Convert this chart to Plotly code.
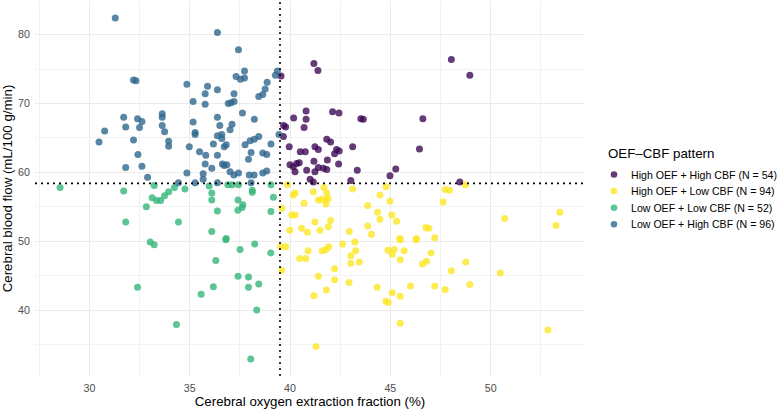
import plotly.graph_objects as go

# ---- data ----
hh_x = [39.55, 41.19, 41.39, 48.04, 48.96, 42.12, 42.44, 43.53, 43.65, 46.62, 40.8, 40.18, 40.8, 40.7,
        39.68, 39.78, 39.67, 39.96, 40.51, 40.76, 41.24, 41.41, 41.86, 40.0, 40.16, 40.33, 40.46, 40.25,
        40.83, 41.24, 41.0, 41.16, 41.83, 42.02, 42.32, 42.45, 42.22, 43.12, 46.45, 41.19, 41.41, 41.66,
        41.83, 42.42, 43.35, 43.03, 44.98, 45.27, 48.46]
hh_y = [74.0, 75.8, 74.8, 76.4, 74.1, 68.8, 68.6, 67.8, 67.7, 67.8, 68.9, 67.9, 67.7, 66.5,
        66.8, 66.6, 65.2, 63.7, 63.0, 63.0, 63.7, 63.3, 61.8, 61.1, 60.8, 61.3, 61.4, 60.1,
        60.3, 60.1, 59.0, 58.6, 64.8, 64.4, 63.3, 63.1, 62.7, 63.7, 63.4, 61.6, 60.7, 60.6,
        60.4, 61.2, 60.3, 58.8, 59.5, 60.5, 58.6]

hl_x = [39.54, 39.79, 40.9, 40.48, 40.78, 39.59, 41.41, 41.19, 41.29, 41.61, 41.79, 41.93, 42.62, 43.23,
        43.27, 43.03, 43.03, 43.45, 42.22, 42.22, 41.81, 42.94, 44.34, 44.88, 45.19, 45.09, 45.69, 45.49,
        45.49, 46.28, 47.21, 47.03, 46.8, 46.6, 48.04, 48.76, 50.48, 48.96, 47.73, 47.21, 46.0, 45.09,
        45.49, 44.78, 44.89, 45.49, 52.85, 48.74, 47.73, 47.95, 47.63, 50.7, 53.45, 53.25, 46.77, 46.92,
        39.87, 40.25, 40.16, 41.16, 41.41, 41.58, 41.79, 39.59, 40.08, 40.25, 41.24, 39.99, 40.58, 41.49,
        41.91, 41.69, 41.83, 41.9, 41.79, 40.7, 43.12, 44.78, 44.48, 44.98, 43.87, 44.36, 44.48, 45.07,
        45.31, 42.02, 42.95, 43.87, 44.06, 45.47, 46.3, 40.87]
hl_y = [49.2, 49.2, 48.6, 47.5, 47.5, 45.8, 44.9, 42.1, 34.7, 48.6, 48.8, 49.2, 49.6, 49.9,
        48.6, 47.9, 46.8, 47.0, 46.0, 44.4, 42.9, 44.0, 43.3, 48.7, 48.8, 48.1, 48.6, 47.3,
        50.2, 50.2, 50.5, 48.3, 47.1, 46.7, 45.7, 47.0, 45.4, 43.7, 43.0, 43.5, 43.5, 42.5,
        42.0, 41.3, 41.1, 38.1, 37.1, 58.2, 57.5, 57.4, 55.7, 53.3, 54.2, 52.3, 52.0, 51.9,
        58.2, 57.0, 56.7, 57.2, 56.0, 56.1, 56.0, 54.8, 53.8, 53.8, 52.8, 51.6, 51.9, 51.6,
        52.1, 57.8, 57.0, 56.2, 55.4, 55.5, 57.6, 57.9, 56.7, 55.8, 55.2, 54.2, 53.2, 53.8,
        52.9, 53.0, 51.4, 52.2, 51.0, 50.4, 50.4, 51.3]

ll_x = [28.54, 31.71, 33.23, 33.95, 34.24, 34.76, 33.75, 33.13, 33.35, 33.55, 35.97, 36.1, 36.1, 36.38,
        32.84, 31.81, 34.44, 36.1, 33.03, 33.23, 36.8, 37.51, 38.24, 39.04, 36.3, 37.41, 37.93, 32.4,
        36.18, 37.93, 38.44, 35.57, 38.34, 34.34, 38.04, 36.9, 37.11, 37.43, 38.12, 38.12, 39.05, 39.17,
        37.41, 37.65, 37.61, 37.4, 39.05, 36.82]
ll_y = [57.8, 57.3, 58.1, 57.2, 57.8, 57.6, 56.6, 56.3, 55.9, 55.9, 58.0, 57.0, 56.0, 54.4,
        55.0, 52.8, 52.8, 51.4, 49.9, 49.5, 50.2, 48.8, 49.6, 48.3, 47.2, 44.9, 44.8, 43.3,
        43.4, 43.3, 43.8, 42.3, 40.0, 37.9, 32.9, 58.2, 58.2, 58.2, 57.4, 57.1, 58.2, 56.4,
        56.0, 55.3, 54.9, 54.5, 54.3, 50.4]

lh_x = [31.29, 36.38, 32.2, 32.32, 34.86, 35.89, 36.38, 35.77, 35.17, 35.77, 36.38, 31.71, 32.4, 32.62,
        33.63, 33.63, 33.63, 35.17, 31.81, 32.5, 30.76, 33.75, 35.27, 35.27, 36.38, 30.48, 32.2, 33.95,
        33.95, 34.98, 36.18, 32.42, 35.49, 35.8, 36.38, 32.62, 31.81, 35.77, 36.1, 34.86, 35.67, 35.67,
        32.9, 34.44, 35.27, 36.38, 37.43, 37.73, 37.31, 37.53, 37.73, 39.27, 39.37, 38.86, 38.76, 37.21,
        38.64, 38.44, 36.92, 37.06, 37.21, 37.63, 38.22, 36.5, 37.11, 37.01, 36.6, 36.6, 36.82, 36.72,
        37.76, 38.01, 38.22, 38.44, 38.06, 37.93, 38.64, 38.84, 39.05, 39.45, 36.63, 36.72, 36.85, 37.01,
        37.2, 37.43, 37.97, 38.21, 38.64, 38.84, 38.06]
lh_y = [82.4, 80.3, 73.4, 73.3, 72.8, 72.5, 72.0, 71.4, 70.3, 69.9, 68.0, 68.0, 67.8, 67.4,
        68.5, 68.0, 66.8, 67.3, 66.6, 66.5, 66.0, 65.9, 65.8, 65.5, 65.3, 64.4, 64.7, 64.5,
        63.8, 63.7, 64.1, 62.6, 63.0, 62.5, 62.5, 60.9, 60.7, 61.2, 60.6, 59.9, 59.8, 59.0,
        59.3, 58.5, 58.5, 58.5, 77.8, 74.7, 73.9, 73.5, 73.7, 74.1, 74.7, 73.1, 72.1, 71.4,
        71.3, 71.0, 70.0, 70.1, 70.3, 68.6, 67.7, 66.8, 67.0, 66.2, 65.5, 64.9, 64.0, 63.7,
        64.0, 64.6, 64.8, 65.2, 62.9, 61.9, 62.8, 62.6, 64.1, 65.5, 61.2, 61.0, 61.1, 60.1,
        59.6, 59.9, 59.6, 59.6, 59.9, 60.2, 58.5]

oef_cut = 39.5
cbf_cut = 58.4

series_names = ["High OEF + High CBF (N = 54)", "High OEF + Low CBF (N = 94)",
                "Low OEF + Low CBF (N = 52)", "Low OEF + High CBF (N = 96)"]
series_x = [hh_x, hl_x, ll_x, lh_x]
series_y = [hh_y, hl_y, ll_y, lh_y]
colors = ["#3F0A56", "#FDE725", "#35B779", "#31688E"]
legend_title = "OEF\u2013CBF pattern"

x_ticks = [30, 35, 40, 45, 50]
y_ticks = [40, 50, 60, 70, 80]

FONT = "Liberation Sans, Arial, sans-serif"

# plot-area geometry in pixels
W, H = 777, 411
L, R, T, B = 35, 192, 1, 35
PW, PH = W - L - R, H - T - B


def px_x(p):
    return (p - L) / PW


def px_y(p):
    return (H - B - p) / PH


fig = go.Figure()
for name, xs, ys, c in zip(series_names, series_x, series_y, colors):
    fig.add_trace(go.Scatter(x=xs, y=ys, mode="markers", name=name, showlegend=False,
                             marker=dict(color=c, size=7, opacity=0.8, line=dict(width=0))))

fig.add_shape(type="line", xref="x", yref="paper", x0=oef_cut, x1=oef_cut, y0=0, y1=1,
              line=dict(color="black", width=1.6, dash="2px,4px"))
fig.add_shape(type="line", xref="paper", yref="y", x0=0, x1=1, y0=cbf_cut, y1=cbf_cut,
              line=dict(color="black", width=1.6, dash="2px,4px"))

# manual legend (ggplot style)
fig.add_annotation(text=legend_title, xref="paper", yref="paper",
                   x=px_x(606), y=px_y(153), xanchor="left", yanchor="middle", showarrow=False,
                   font=dict(size=13.3, family=FONT, color="black"))
for i, (name, c) in enumerate(zip(series_names, colors)):
    yy = 174.5 + 16.6 * i
    fig.add_shape(type="circle", xref="paper", yref="paper",
                  xsizemode="pixel", ysizemode="pixel",
                  xanchor=px_x(614), yanchor=px_y(yy), x0=-3.3, x1=3.3, y0=-3.3, y1=3.3,
                  fillcolor=c, opacity=0.8, line=dict(width=0))
    fig.add_annotation(text=name, xref="paper", yref="paper",
                       x=px_x(629), y=px_y(yy), xanchor="left", yanchor="middle", showarrow=False,
                       font=dict(size=10.6, family=FONT, color="black"))

fig.update_layout(
    width=W, height=H,
    margin=dict(l=L, r=R, t=T, b=B),
    paper_bgcolor="white", plot_bgcolor="white",
    font=dict(family=FONT, color="black"),
    showlegend=False,
    xaxis=dict(range=[27.29, 54.70], tickvals=x_ticks, ticktext=[str(v) for v in x_ticks],
               showgrid=True, gridcolor="#EBEBEB", gridwidth=1,
               minor=dict(dtick=2.5, tick0=0, showgrid=True, gridcolor="#F2F2F2", gridwidth=0.7),
               zeroline=False, showline=False, ticks="", ticklabelstandoff=4,
               tickfont=dict(size=10.7, color="#4D4D4D", family=FONT),
               title=dict(text="Cerebral oxygen extraction fraction (%)",
                          font=dict(size=13.3, family=FONT), standoff=3)),
    yaxis=dict(range=[30.43, 84.88], tickvals=y_ticks, ticktext=[str(v) for v in y_ticks],
               showgrid=True, gridcolor="#EBEBEB", gridwidth=1,
               minor=dict(dtick=5, tick0=0, showgrid=True, gridcolor="#F2F2F2", gridwidth=0.7),
               zeroline=False, showline=False, ticks="", ticklabelstandoff=4,
               tickfont=dict(size=10.7, color="#4D4D4D", family=FONT),
               title=dict(text="Cerebral blood flow (mL/100 g/min)",
                          font=dict(size=13.3, family=FONT), standoff=2)),
)

fig.write_html("out.html")
